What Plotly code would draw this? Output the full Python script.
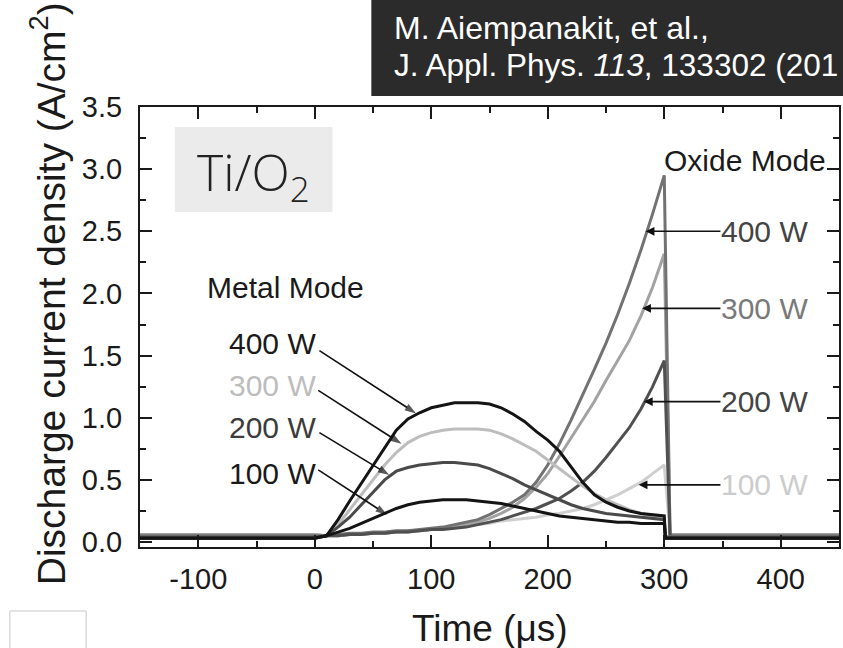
import plotly.graph_objects as go

# ---------------- data ----------------
time_main = [-150, -100, -50, 0, 10, 20, 30, 40, 50, 60, 70, 80, 90, 100, 110, 120,
             130, 140, 150, 160, 170, 180, 190, 200, 210, 220, 230, 240, 250, 260,
             270, 280, 290, 300]
time_metal_tail = [301, 350, 400, 450]
time_oxide_tail = [305, 350, 400, 450]

metal_400 = [0.03, 0.03, 0.03, 0.03, 0.05, 0.18, 0.33, 0.47, 0.61, 0.75, 0.90, 0.99, 1.04, 1.08,
             1.10, 1.12, 1.12, 1.12, 1.11, 1.08, 1.03, 0.97, 0.89, 0.82, 0.73, 0.60, 0.48,
             0.38, 0.32, 0.28, 0.25, 0.23, 0.22, 0.21]
metal_300 = [0.04, 0.04, 0.04, 0.04, 0.05, 0.14, 0.26, 0.38, 0.50, 0.62, 0.72, 0.80, 0.85, 0.88,
             0.90, 0.91, 0.91, 0.91, 0.90, 0.87, 0.83, 0.78, 0.73, 0.66, 0.59, 0.52, 0.45,
             0.39, 0.34, 0.30, 0.26, 0.23, 0.21, 0.19]
metal_200 = [0.04, 0.04, 0.04, 0.04, 0.05, 0.12, 0.20, 0.30, 0.40, 0.50, 0.57, 0.60, 0.62, 0.63,
             0.64, 0.64, 0.63, 0.62, 0.59, 0.55, 0.51, 0.46, 0.42, 0.38, 0.34, 0.30, 0.27,
             0.25, 0.23, 0.22, 0.21, 0.20, 0.19, 0.18]
metal_100 = [0.03, 0.03, 0.03, 0.03, 0.05, 0.08, 0.11, 0.15, 0.19, 0.23, 0.27, 0.30, 0.32, 0.33,
             0.34, 0.34, 0.34, 0.33, 0.32, 0.31, 0.29, 0.27, 0.25, 0.23, 0.21, 0.20, 0.19,
             0.18, 0.17, 0.16, 0.16, 0.15, 0.15, 0.15]
metal_tail = {"400": [0.03, 0.03, 0.03, 0.03], "300": [0.04, 0.04, 0.04, 0.04],
              "200": [0.04, 0.04, 0.04, 0.04], "100": [0.03, 0.03, 0.03, 0.03]}

oxide_400 = [0.05, 0.05, 0.05, 0.05, 0.05, 0.06, 0.07, 0.07, 0.08, 0.08, 0.09, 0.09, 0.10, 0.11,
             0.12, 0.14, 0.16, 0.18, 0.22, 0.27, 0.32, 0.38, 0.48, 0.62, 0.79, 0.98, 1.18,
             1.39, 1.60, 1.83, 2.08, 2.35, 2.64, 2.95]
oxide_300 = [0.06, 0.06, 0.06, 0.06, 0.05, 0.05, 0.06, 0.06, 0.07, 0.07, 0.08, 0.08, 0.09, 0.10,
             0.11, 0.12, 0.14, 0.16, 0.19, 0.23, 0.28, 0.35, 0.44, 0.55, 0.69, 0.84, 0.98,
             1.13, 1.30, 1.46, 1.62, 1.82, 2.05, 2.32]
oxide_200 = [0.04, 0.04, 0.04, 0.04, 0.05, 0.05, 0.06, 0.06, 0.07, 0.07, 0.08, 0.08, 0.09, 0.10,
             0.10, 0.11, 0.12, 0.14, 0.16, 0.18, 0.21, 0.24, 0.27, 0.31, 0.35, 0.41, 0.48,
             0.57, 0.68, 0.80, 0.92, 1.07, 1.25, 1.46]
oxide_100 = [0.06, 0.06, 0.06, 0.06, 0.05, 0.05, 0.06, 0.06, 0.07, 0.07, 0.08, 0.09, 0.09, 0.10,
             0.11, 0.12, 0.13, 0.14, 0.15, 0.17, 0.18, 0.19, 0.20, 0.22, 0.23, 0.25, 0.27,
             0.30, 0.34, 0.38, 0.43, 0.48, 0.55, 0.62]
oxide_tail = {"400": [0.05, 0.05, 0.05, 0.05], "300": [0.06, 0.06, 0.06, 0.06],
              "200": [0.04, 0.04, 0.04, 0.04], "100": [0.06, 0.06, 0.06, 0.06]}

x_tick_vals = [-100, 0, 100, 200, 300, 400]
x_tick_text = ["-100", "0", "100", "200", "300", "400"]
y_tick_vals = [0.0, 0.5, 1.0, 1.5, 2.0, 2.5, 3.0, 3.5]
y_tick_text = ["0.0", "0.5", "1.0", "1.5", "2.0", "2.5", "3.0", "3.5"]

power_labels = ["400 W", "300 W", "200 W", "100 W"]

# ---------------- figure ----------------
W, H = 843, 648
ML, MR, MT, MB = 140, 2, 107, 101
PW, PH = W - ML - MR, H - MT - MB


def px_x(p):
    return (p - ML) / PW


def px_y(p):
    return (H - MB - p) / PH


fig = go.Figure()

series = [
    (time_main + time_oxide_tail, oxide_100 + oxide_tail["100"], "#cfcfcf"),
    (time_main + time_oxide_tail, oxide_300 + oxide_tail["300"], "#a2a2a2"),
    (time_main + time_oxide_tail, oxide_400 + oxide_tail["400"], "#727272"),
    (time_main + time_oxide_tail, oxide_200 + oxide_tail["200"], "#505050"),
    (time_main + time_metal_tail, metal_300 + metal_tail["300"], "#bdbdbd"),
    (time_main + time_metal_tail, metal_200 + metal_tail["200"], "#4a4a4a"),
    (time_main + time_metal_tail, metal_100 + metal_tail["100"], "#141414"),
    (time_main + time_metal_tail, metal_400 + metal_tail["400"], "#141414"),
]
for xs, ys, col in series:
    fig.add_trace(go.Scatter(x=xs, y=ys, mode="lines",
                             line=dict(color=col, width=3),
                             showlegend=False, hoverinfo="skip"))

FONT = "Liberation Sans, Arial, sans-serif"
LBL = 30
ann = []

# Metal mode labels and leader arrows (arrows drawn as tiny line traces with arrow markers)
ann.append(dict(x=-25, y=2.05, xref="x", yref="y", text="Metal Mode", showarrow=False,
                font=dict(family=FONT, size=LBL, color="#1a1a1a")))
left_lab_y = [1.60, 1.26, 0.92, 0.55]
left_lab_col = ["#1a1a1a", "#bdbdbd", "#3c3c3c", "#1a1a1a"]
left_tail = [(4, 1.54), (3, 1.22), (4, 0.88), (3, 0.58)]
left_tip = [(87, 1.035), (74.5, 0.79), (64, 0.54), (62, 0.22)]
for lab, yy, col, (tx, ty), (hx, hy) in zip(power_labels, left_lab_y, left_lab_col, left_tail, left_tip):
    ann.append(dict(x=3, y=yy, xref="x", yref="y", text=lab, showarrow=False,
                    xanchor="right", yanchor="middle",
                    font=dict(family=FONT, size=LBL, color=col)))
    fig.add_trace(go.Scatter(x=[tx, hx], y=[ty, hy], mode="lines+markers",
                             line=dict(color="#111111", width=1.6),
                             marker=dict(symbol=["circle", "arrow"], size=[0, 12],
                                         angleref="previous", color="#111111",
                                         line=dict(width=0)),
                             showlegend=False, hoverinfo="skip"))

# Oxide mode labels with arrows
ann.append(dict(x=298, y=3.07, xref="x", yref="y", text="Oxide Mode", showarrow=False,
                xanchor="left", yanchor="middle",
                font=dict(family=FONT, size=LBL, color="#1a1a1a")))
right_lab_y = [2.50, 1.88, 1.13, 0.46]
right_lab_col = ["#444444", "#7a7a7a", "#444444", "#cccccc"]
right_tip_x = [284, 281, 282.5, 278]
for lab, yy, col, hx in zip(power_labels, right_lab_y, right_lab_col, right_tip_x):
    ann.append(dict(x=hx, y=yy, ax=386, ay=yy, xref="x", yref="y", axref="x", ayref="y",
                    text=lab, showarrow=True, arrowhead=2, arrowsize=1.1, arrowwidth=1.6,
                    arrowcolor="#111111", standoff=0, borderpad=0,
                    font=dict(family=FONT, size=LBL, color=col)))

# axis titles
ann.append(dict(x=0.5, y=px_y(628), xref="paper", yref="paper", text="Time (\u03bcs)",
                showarrow=False, xanchor="center", yanchor="middle",
                font=dict(family=FONT, size=37, color="#1a1a1a")))
ann.append(dict(x=px_x(47), y=px_y(294), xref="paper", yref="paper",
                text="Discharge current density (A/cm<sup>2</sup>)", textangle=-90,
                showarrow=False, xanchor="center", yanchor="middle",
                font=dict(family=FONT, size=39, color="#1a1a1a")))

# Ti/O2 label box
ann.append(dict(x=px_x(254), y=px_y(175), xref="paper", yref="paper",
                text="Ti/O<sub>2</sub>", showarrow=False, xanchor="center", yanchor="middle",
                font=dict(family="Open Sans, sans-serif", size=50, color="#222222", weight=300)))

# citation (the reference shows it cropped by the image edge after "(201")
ann.append(dict(x=px_x(393), y=px_y(28), xref="paper", yref="paper",
                text="M. Aiempanakit, et al.,", showarrow=False, xanchor="left", yanchor="middle",
                font=dict(family=FONT, size=32, color="#ffffff")))
ann.append(dict(x=px_x(393), y=px_y(65), xref="paper", yref="paper",
                text="J. Appl. Phys. <i>113</i>, 133302 (201", showarrow=False,
                xanchor="left", yanchor="middle",
                font=dict(family=FONT, size=31.5, color="#ffffff")))

shapes = [
    dict(type="rect", xref="paper", yref="paper", x0=px_x(372), x1=px_x(850),
         y0=px_y(96), y1=px_y(-5), fillcolor="#2b2b2b", line=dict(width=0), layer="above"),
    dict(type="rect", xref="paper", yref="paper", x0=px_x(175), x1=px_x(333),
         y0=px_y(212), y1=px_y(127), fillcolor="#ebebeb", line=dict(width=0), layer="above"),
    dict(type="rect", xref="paper", yref="paper", x0=px_x(9.5), x1=px_x(86),
         y0=px_y(660), y1=px_y(611), fillcolor="rgba(0,0,0,0)",
         line=dict(width=1, color="#c8c8c8")),
]

axis_common = dict(showline=True, linewidth=2, linecolor="#1a1a1a", mirror="ticks",
                   ticks="inside", ticklen=12, tickwidth=2, tickcolor="#1a1a1a",
                   showgrid=False, zeroline=False,
                   tickfont=dict(family=FONT, size=29, color="#1a1a1a"))

fig.update_layout(
    width=W, height=H, autosize=False,
    margin=dict(l=ML, r=MR, t=MT, b=MB, pad=0),
    paper_bgcolor="white", plot_bgcolor="white",
    xaxis=dict(range=[-150, 450], tickmode="array", tickvals=x_tick_vals, ticktext=x_tick_text,
               minor=dict(dtick=50, ticks="inside", ticklen=6, tickwidth=2, tickcolor="#1a1a1a"),
               ticklabelstandoff=5, **axis_common),
    yaxis=dict(range=[-0.04, 3.5], tickmode="array", tickvals=y_tick_vals, ticktext=y_tick_text,
               minor=dict(dtick=0.25, tick0=0, ticks="inside", ticklen=6, tickwidth=2,
                          tickcolor="#1a1a1a"),
               ticklabelstandoff=10, **axis_common),
    annotations=ann,
    shapes=shapes,
)

fig.write_html("out.html")
